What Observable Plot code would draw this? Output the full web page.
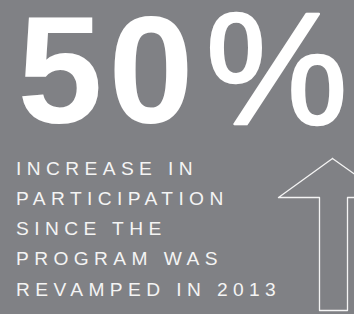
<!DOCTYPE html>
<html>
<head>
<meta charset="utf-8">
<script src="https://cdn.jsdelivr.net/npm/d3@7"></script>
<script src="https://cdn.jsdelivr.net/npm/@observablehq/plot@0.6"></script>
<style>
  html, body { margin: 0; padding: 0; background: #808185; overflow: hidden; }
  #chart svg { display: block; }
</style>
</head>
<body>
<div id="chart"></div>
<script>
// Data
const statValue = ["50"];
const statUnit = ["%"];
const captionLines = ["INCREASE IN", "PARTICIPATION", "SINCE THE", "PROGRAM WAS", "REVAMPED IN 2013"];
// Arrow outline (decorative glyph, in layout units)
const arrowX = [332, 278, 319, 319, 347, 347, 387, 332];
const arrowY = [158, 197, 197, 310, 310, 197, 197, 158];

const W = 354, H = 314;
const bg = "#808185";
const fg = "#ffffff";

const captionData = captionLines.map((t, i) => ({t, i}));
const arrowData = arrowX.map((x, i) => ({x, y: arrowY[i]}));

const plot = Plot.plot({
  width: W,
  height: H,
  margin: 0,
  style: {background: bg, color: fg},
  x: {type: "identity", axis: null},
  y: {type: "identity", axis: null},
  marks: [
    Plot.text(statValue, {
      x: () => 17, y: () => 122, text: d => d,
      textAnchor: "start", lineAnchor: "bottom",
      fontFamily: "Liberation Sans, Arial, sans-serif", fontWeight: "bold",
      fontSize: 153, fill: fg
    }),
    Plot.text(statUnit, {
      x: () => 205, y: () => 123, text: d => d,
      textAnchor: "start", lineAnchor: "bottom",
      fontFamily: "Liberation Sans, Arial, sans-serif", fontWeight: "normal",
      fontSize: 160, fill: fg, stroke: fg, strokeWidth: 2.5
    }),
    Plot.text(captionData, {
      x: () => 15.5, y: d => 174 + d.i * 30.25, text: "t",
      textAnchor: "start", lineAnchor: "bottom",
      fontFamily: "Liberation Sans, Arial, sans-serif",
      fontSize: 19.2, fill: "#f4f4f4"
    }),
    Plot.line(arrowData, {x: "x", y: "y", stroke: "#f4f4f4", strokeWidth: 1.3, curve: "linear"})
  ]
});

const groups = plot.querySelectorAll('g[aria-label="text"]');
if (groups[0]) groups[0].setAttribute("letter-spacing", "6px");
if (groups[2]) groups[2].setAttribute("letter-spacing", "5.4px");
document.getElementById("chart").appendChild(plot);
</script>
</body>
</html>
